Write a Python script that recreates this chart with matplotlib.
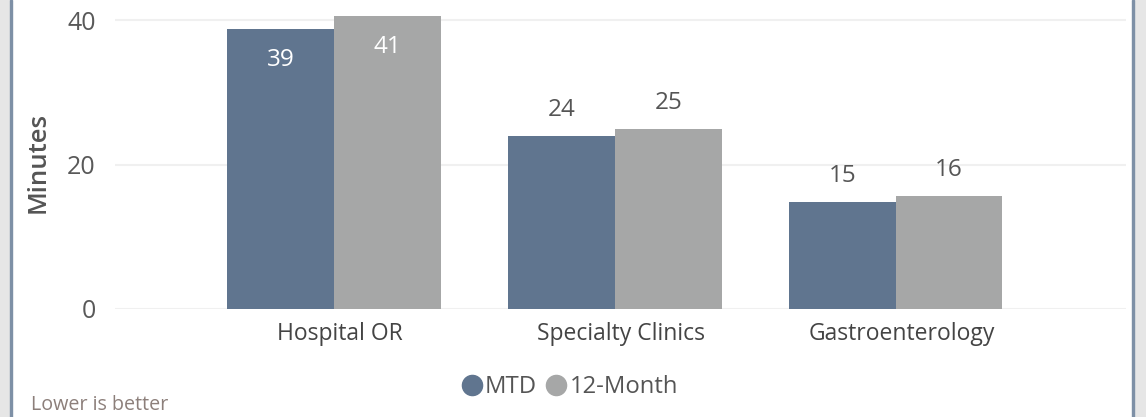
import matplotlib
matplotlib.use("Agg")
import matplotlib.pyplot as plt
from matplotlib.patches import Rectangle
from matplotlib.lines import Line2D
import numpy as np

categories = ["Hospital OR", "Specialty Clinics", "Gastroenterology"]
mtd = [38.8, 24.0, 14.8]
twelve_month = [40.6, 24.9, 15.7]
mtd_labels = ["39", "24", "15"]
twelve_labels = ["41", "25", "16"]
yticks = [0, 20, 40]

plt.rcParams['font.family'] = ['Open Sans', 'DejaVu Sans']

W, H = 1146, 417
fig = plt.figure(figsize=(W / 100, H / 100), dpi=100)
fig.patch.set_facecolor('white')

# side bands and borders
fig.patches.append(Rectangle((0, 0), 10 / W, 1, transform=fig.transFigure, color='#e6e6e6', zorder=0))
fig.patches.append(Rectangle((10 / W, 0), 2 / W, 1, transform=fig.transFigure, color='#7e90a6', zorder=0))
fig.patches.append(Rectangle((1134 / W, 0), 12 / W, 1, transform=fig.transFigure, color='#e6e6e6', zorder=0))
fig.patches.append(Rectangle((1132 / W, 0), 2 / W, 1, transform=fig.transFigure, color='#7e90a6', zorder=0))

ax_left, ax_right = 115, 1126
ax_bottom_px, ax_top_px = 309, 0
ax = fig.add_axes([ax_left / W, (H - ax_bottom_px) / H, (ax_right - ax_left) / W, (ax_bottom_px - ax_top_px) / H])
ax.set_facecolor('none')

x = np.arange(len(categories))
bw = 0.38
c_mtd = '#60758f'
c_12 = '#a6a7a7'
b1 = ax.bar(x - bw / 2, mtd, bw, color=c_mtd, zorder=3)
b2 = ax.bar(x + bw / 2, twelve_month, bw, color=c_12, zorder=3)

ax.set_xlim(-0.78, 2.82)
ax.set_ylim(0, 42.77)

for bars, labels in ((b1, mtd_labels), (b2, twelve_labels)):
    for rect, lab in zip(bars, labels):
        h = rect.get_height()
        cx = rect.get_x() + rect.get_width() / 2
        if h > 35:
            ax.annotate(lab, (cx, h), xytext=(0, -22.5), textcoords='offset points',
                        ha='center', va='center', color='white', fontsize=17.5, zorder=4)
        else:
            ax.annotate(lab, (cx, h), xytext=(0, 18.5), textcoords='offset points',
                        ha='center', va='center', color='#555555', fontsize=17.5, zorder=4)

ax.set_yticks(yticks)
ax.set_yticklabels([str(t) for t in yticks], fontsize=18, color='#595959')
# category labels sit slightly right of the bar-group centre in the reference
ax.set_xticks(x + 0.021)
ax.set_xticklabels(categories, fontsize=16.5, color='#444444')
ax.tick_params(axis='both', length=0)
ax.tick_params(axis='y', pad=14)
ax.tick_params(axis='x', pad=9)
ax.grid(axis='y', color='#f0f0f0', linewidth=1.5, zorder=0)
for s in ax.spines.values():
    s.set_visible(False)

fig.text(38 / W, 1 - 162 / H, "Minutes", rotation=90, ha='center', va='center',
         fontsize=18.5, fontweight='semibold', color='#555555')

handles = [Line2D([], [], marker='o', linestyle='none', markersize=14.5, color=c_mtd),
           Line2D([], [], marker='o', linestyle='none', markersize=14.5, color=c_12)]
leg = fig.legend(handles, ["MTD", "12-Month"], loc='center', bbox_to_anchor=(569 / W, 1 - 387 / H),
                 ncol=2, frameon=False, fontsize=17.2, handletextpad=0.05, columnspacing=0.3,
                 handlelength=1.0, labelcolor='#555555')

fig.text(31 / W, 1 - 405 / H, "Lower is better", ha='left', va='center', fontsize=14.2, color='#8c7f7a')

fig.savefig('out.png', dpi=100, facecolor='white')
